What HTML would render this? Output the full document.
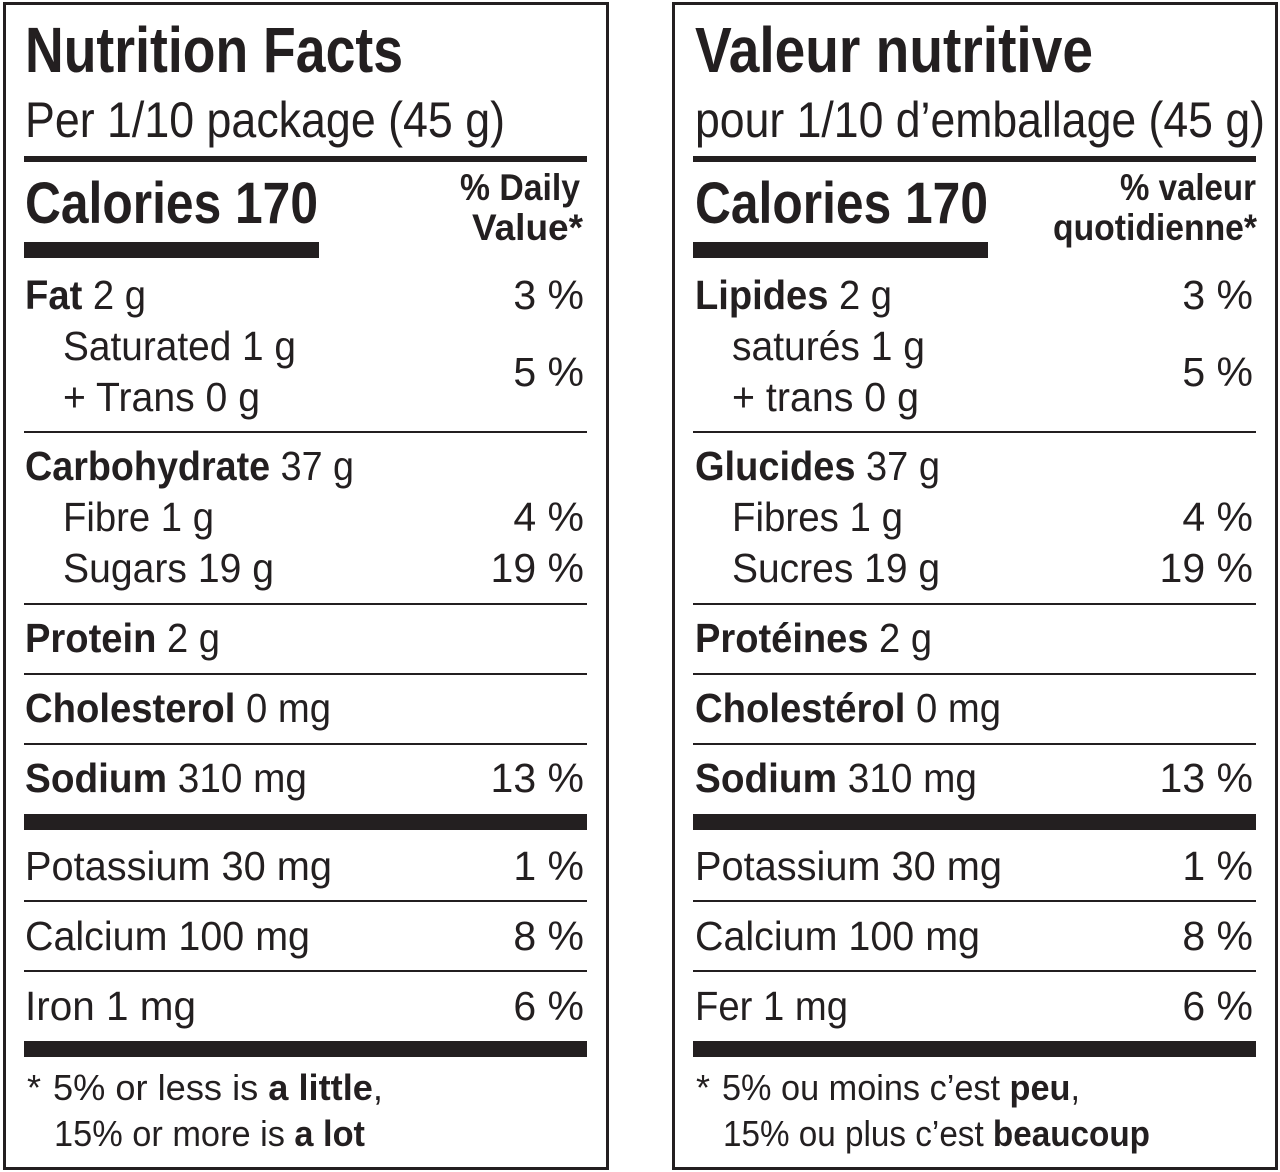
<!DOCTYPE html>
<html><head><meta charset="utf-8"><style>
html,body{margin:0;padding:0;background:#fff;}
svg{display:block;}
text{font-family:"Liberation Sans Narrow","Liberation Sans",sans-serif;fill:#231f20;}
.b{font-weight:bold;}
</style></head><body>
<svg width="1280" height="1172" viewBox="0 0 1280 1172" xmlns="http://www.w3.org/2000/svg">
<g>
<rect x="4.5" y="3.5" width="603" height="1165" fill="none" stroke="#231f20" stroke-width="3"/>
<text x="25" y="72" class="b" font-size="64" textLength="378" lengthAdjust="spacingAndGlyphs">Nutrition Facts</text>
<text x="25" y="137" font-size="50" textLength="480" lengthAdjust="spacingAndGlyphs">Per 1/10 package (45 g)</text>
<rect x="24" y="156" width="563" height="6" fill="#231f20"/>
<text x="25" y="223" class="b" font-size="58" textLength="293" lengthAdjust="spacingAndGlyphs">Calories 170</text>
<text x="460" y="200" class="b" font-size="37" textLength="120" lengthAdjust="spacingAndGlyphs">% Daily</text>
<text x="472" y="240" class="b" font-size="37" textLength="111" lengthAdjust="spacingAndGlyphs">Value*</text>
<rect x="24" y="242" width="295" height="16" fill="#231f20"/>
<text x="25" y="309" font-size="41" textLength="121" lengthAdjust="spacingAndGlyphs"><tspan class="b">Fat</tspan> 2 g</text>
<text x="584" y="309" font-size="41" text-anchor="end">3 %</text>
<text x="63" y="360" font-size="41" textLength="233" lengthAdjust="spacingAndGlyphs">Saturated 1 g</text>
<text x="63" y="411" font-size="41" textLength="197" lengthAdjust="spacingAndGlyphs">+ Trans 0 g</text>
<text x="584" y="386" font-size="41" text-anchor="end">5 %</text>
<rect x="24" y="431" width="563" height="2" fill="#231f20"/>
<text x="25" y="480" font-size="41" textLength="329" lengthAdjust="spacingAndGlyphs"><tspan class="b">Carbohydrate</tspan> 37 g</text>
<text x="63" y="531" font-size="41" textLength="151" lengthAdjust="spacingAndGlyphs">Fibre 1 g</text>
<text x="584" y="531" font-size="41" text-anchor="end">4 %</text>
<text x="63" y="582" font-size="41" textLength="211" lengthAdjust="spacingAndGlyphs">Sugars 19 g</text>
<text x="584" y="582" font-size="41" text-anchor="end">19 %</text>
<rect x="24" y="603" width="563" height="2" fill="#231f20"/>
<text x="25" y="652" font-size="41" textLength="195" lengthAdjust="spacingAndGlyphs"><tspan class="b">Protein</tspan> 2 g</text>
<rect x="24" y="673" width="563" height="2" fill="#231f20"/>
<text x="25" y="722" font-size="41" textLength="306" lengthAdjust="spacingAndGlyphs"><tspan class="b">Cholesterol</tspan> 0 mg</text>
<rect x="24" y="743" width="563" height="2" fill="#231f20"/>
<text x="25" y="792" font-size="41" textLength="282" lengthAdjust="spacingAndGlyphs"><tspan class="b">Sodium</tspan> 310 mg</text>
<text x="584" y="792" font-size="41" text-anchor="end">13 %</text>
<rect x="24" y="814" width="563" height="16" fill="#231f20"/>
<text x="25" y="880" font-size="41" textLength="307" lengthAdjust="spacingAndGlyphs">Potassium 30 mg</text>
<text x="584" y="880" font-size="41" text-anchor="end">1 %</text>
<rect x="24" y="900" width="563" height="2" fill="#231f20"/>
<text x="25" y="950" font-size="41" textLength="285" lengthAdjust="spacingAndGlyphs">Calcium 100 mg</text>
<text x="584" y="950" font-size="41" text-anchor="end">8 %</text>
<rect x="24" y="970" width="563" height="2" fill="#231f20"/>
<text x="25" y="1020" font-size="41" textLength="171" lengthAdjust="spacingAndGlyphs">Iron 1 mg</text>
<text x="584" y="1020" font-size="41" text-anchor="end">6 %</text>
<rect x="24" y="1041" width="563" height="16" fill="#231f20"/>
<text x="27" y="1100" font-size="36">*</text>
<text x="53" y="1100" font-size="36" textLength="330" lengthAdjust="spacingAndGlyphs">5% or less is <tspan class="b">a little</tspan>,</text>
<text x="54" y="1146" font-size="36" textLength="311" lengthAdjust="spacingAndGlyphs">15% or more is <tspan class="b">a lot</tspan></text>
</g>
<g>
<rect x="673.5" y="3.5" width="603" height="1165" fill="none" stroke="#231f20" stroke-width="3"/>
<text x="695" y="72" class="b" font-size="64" textLength="398" lengthAdjust="spacingAndGlyphs">Valeur nutritive</text>
<text x="695" y="137" font-size="50" textLength="570" lengthAdjust="spacingAndGlyphs">pour 1/10 d’emballage (45 g)</text>
<rect x="693" y="156" width="563" height="6" fill="#231f20"/>
<text x="695" y="223" class="b" font-size="58" textLength="293" lengthAdjust="spacingAndGlyphs">Calories 170</text>
<text x="1120" y="200" class="b" font-size="37" textLength="136" lengthAdjust="spacingAndGlyphs">% valeur</text>
<text x="1053" y="240" class="b" font-size="37" textLength="204" lengthAdjust="spacingAndGlyphs">quotidienne*</text>
<rect x="693" y="242" width="295" height="16" fill="#231f20"/>
<text x="695" y="309" font-size="41" textLength="197" lengthAdjust="spacingAndGlyphs"><tspan class="b">Lipides</tspan> 2 g</text>
<text x="1253" y="309" font-size="41" text-anchor="end">3 %</text>
<text x="732" y="360" font-size="41" textLength="193" lengthAdjust="spacingAndGlyphs">saturés 1 g</text>
<text x="732" y="411" font-size="41" textLength="187" lengthAdjust="spacingAndGlyphs">+ trans 0 g</text>
<text x="1253" y="386" font-size="41" text-anchor="end">5 %</text>
<rect x="693" y="431" width="563" height="2" fill="#231f20"/>
<text x="695" y="480" font-size="41" textLength="245" lengthAdjust="spacingAndGlyphs"><tspan class="b">Glucides</tspan> 37 g</text>
<text x="732" y="531" font-size="41" textLength="171" lengthAdjust="spacingAndGlyphs">Fibres 1 g</text>
<text x="1253" y="531" font-size="41" text-anchor="end">4 %</text>
<text x="732" y="582" font-size="41" textLength="208" lengthAdjust="spacingAndGlyphs">Sucres 19 g</text>
<text x="1253" y="582" font-size="41" text-anchor="end">19 %</text>
<rect x="693" y="603" width="563" height="2" fill="#231f20"/>
<text x="695" y="652" font-size="41" textLength="237" lengthAdjust="spacingAndGlyphs"><tspan class="b">Protéines</tspan> 2 g</text>
<rect x="693" y="673" width="563" height="2" fill="#231f20"/>
<text x="695" y="722" font-size="41" textLength="306" lengthAdjust="spacingAndGlyphs"><tspan class="b">Cholestérol</tspan> 0 mg</text>
<rect x="693" y="743" width="563" height="2" fill="#231f20"/>
<text x="695" y="792" font-size="41" textLength="282" lengthAdjust="spacingAndGlyphs"><tspan class="b">Sodium</tspan> 310 mg</text>
<text x="1253" y="792" font-size="41" text-anchor="end">13 %</text>
<rect x="693" y="814" width="563" height="16" fill="#231f20"/>
<text x="695" y="880" font-size="41" textLength="307" lengthAdjust="spacingAndGlyphs">Potassium 30 mg</text>
<text x="1253" y="880" font-size="41" text-anchor="end">1 %</text>
<rect x="693" y="900" width="563" height="2" fill="#231f20"/>
<text x="695" y="950" font-size="41" textLength="285" lengthAdjust="spacingAndGlyphs">Calcium 100 mg</text>
<text x="1253" y="950" font-size="41" text-anchor="end">8 %</text>
<rect x="693" y="970" width="563" height="2" fill="#231f20"/>
<text x="695" y="1020" font-size="41" textLength="153" lengthAdjust="spacingAndGlyphs">Fer 1 mg</text>
<text x="1253" y="1020" font-size="41" text-anchor="end">6 %</text>
<rect x="693" y="1041" width="563" height="16" fill="#231f20"/>
<text x="696" y="1100" font-size="36">*</text>
<text x="722" y="1100" font-size="36" textLength="358" lengthAdjust="spacingAndGlyphs">5% ou moins c’est <tspan class="b">peu</tspan>,</text>
<text x="723" y="1146" font-size="36" textLength="427" lengthAdjust="spacingAndGlyphs">15% ou plus c’est <tspan class="b">beaucoup</tspan></text>
</g>
</svg>
</body></html>
